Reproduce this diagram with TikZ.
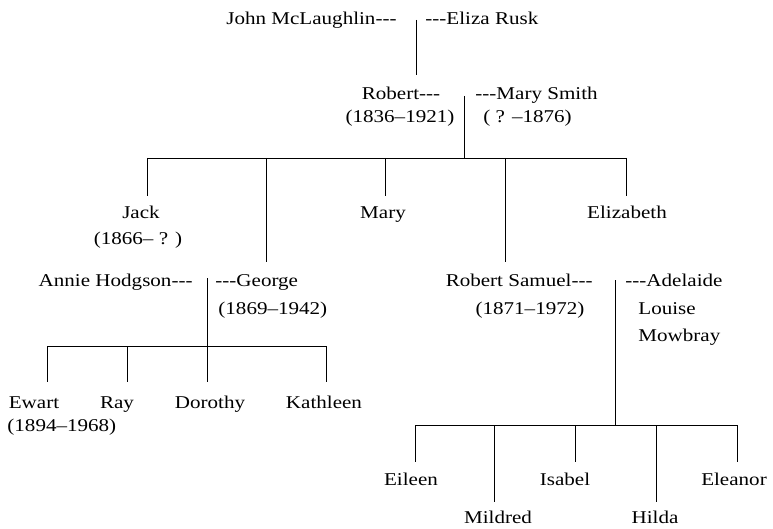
\documentclass[tikz,border=0pt]{standalone}
\usepackage{fontspec}
\setmainfont{Liberation Serif}[FakeStretch=1.17,Ligatures=TeXOff]
\usepackage{tikz}

\begin{document}
\begin{tikzpicture}[x=1pt,y=-1pt,line width=0.9pt,
	every node/.style={inner sep=0pt,font=\fontsize{18pt}{21pt}\selectfont}]
	\useasboundingbox (0,0) rectangle (773,529);

	\draw (397,25) node[anchor=base east] (john) {John McLaughlin---};
	\draw (425,25) node[anchor=base west] (eliza) {---Eliza Rusk};
	\coordinate (je) at (416,20);
	\coordinate (jeend) at (416,75);
	\draw (je) -- (jeend);

	\draw (401,100) node[anchor=base] (robert) {Robert---};
	\draw (400,123) node[anchor=base] (robertd) {(1836–1921)};
	\draw (475,100) node[anchor=base west] (marysmith) {---Mary Smith};
	\draw (483,123) node[anchor=base west] (marysmithd) {( ? –1876)};
	\coordinate (rm) at (464,96);
	\coordinate (rmbar) at (464,158);
	\draw (rm) -- (rmbar);

	\coordinate (jackup) at (147,196);
	\coordinate (georgeup) at (266,262);
	\coordinate (maryup) at (385,196);
	\coordinate (rsup) at (505,262);
	\coordinate (elizabethup) at (626,196);
	\draw (jackup |- rmbar) -- (elizabethup |- rmbar);
	\draw (jackup |- rmbar) -- (jackup);
	\draw (georgeup |- rmbar) -- (georgeup);
	\draw (maryup |- rmbar) -- (maryup);
	\draw (rsup |- rmbar) -- (rsup);
	\draw (elizabethup |- rmbar) -- (elizabethup);

	\draw (141,219) node[anchor=base] (jack) {Jack};
	\draw (138,244) node[anchor=base] (jackd) {(1866– ? )};
	\draw (383,219) node[anchor=base] (mary) {Mary};
	\draw (627,219) node[anchor=base] (elizabeth) {Elizabeth};

	\draw (193,286) node[anchor=base east] (annie) {Annie Hodgson---};
	\draw (215,286) node[anchor=base west] (george) {---George};
	\draw (218,314) node[anchor=base west] (georged) {(1869–1942)};
	\coordinate (ag) at (207,278);
	\coordinate (agbar) at (207,346);
	\coordinate (dorothyup) at (207,382);
	\draw (ag) -- (dorothyup);

	\coordinate (ewartup) at (47,382);
	\coordinate (rayup) at (127,382);
	\coordinate (kathleenup) at (326,382);
	\draw (ewartup |- agbar) -- (kathleenup |- agbar);
	\draw (ewartup |- agbar) -- (ewartup);
	\draw (rayup |- agbar) -- (rayup);
	\draw (kathleenup |- agbar) -- (kathleenup);

	\draw (34,408) node[anchor=base] (ewart) {Ewart};
	\draw (7,431) node[anchor=base west] (ewartd) {(1894–1968)};
	\draw (117,408) node[anchor=base] (ray) {Ray};
	\draw (210,408) node[anchor=base] (dorothy) {Dorothy};
	\draw (324,408) node[anchor=base] (kathleen) {Kathleen};

	\draw (593,286) node[anchor=base east] (rs) {Robert Samuel---};
	\draw (530,314) node[anchor=base] (rsd) {(1871–1972)};
	\draw (625,286) node[anchor=base west] (adelaide) {---Adelaide};
	\draw (638,314) node[anchor=base west] (louise) {Louise};
	\draw (638,341) node[anchor=base west] (mowbray) {Mowbray};
	\coordinate (ra) at (615,280);
	\coordinate (rabar) at (615,425);
	\draw (ra) -- (rabar);

	\coordinate (eileenup) at (415,462);
	\coordinate (mildredup) at (494,502);
	\coordinate (isabelup) at (575,462);
	\coordinate (hildaup) at (656,502);
	\coordinate (eleanorup) at (737,462);
	\draw (eileenup |- rabar) -- (eleanorup |- rabar);
	\draw (eileenup |- rabar) -- (eileenup);
	\draw (mildredup |- rabar) -- (mildredup);
	\draw (isabelup |- rabar) -- (isabelup);
	\draw (hildaup |- rabar) -- (hildaup);
	\draw (eleanorup |- rabar) -- (eleanorup);

	\draw (411,485) node[anchor=base] (eileen) {Eileen};
	\draw (565,485) node[anchor=base] (isabel) {Isabel};
	\draw (734,485) node[anchor=base] (eleanor) {Eleanor};
	\draw (498,523) node[anchor=base] (mildred) {Mildred};
	\draw (655,523) node[anchor=base] (hilda) {Hilda};

\end{tikzpicture}
\end{document}
